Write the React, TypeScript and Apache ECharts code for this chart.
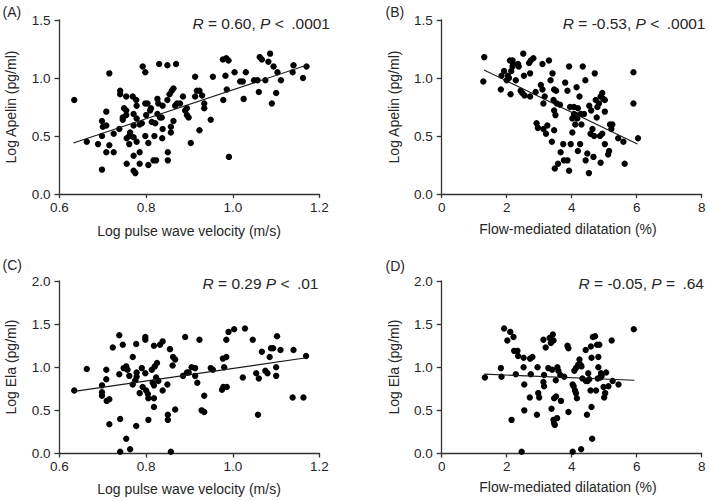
import React, { useEffect, useRef } from "react";
import * as echarts from "echarts";

// Panel A: Log pulse wave velocity vs Log Apelin
const pwvA = [0.634,0.663,0.689,0.698,0.698,0.70,0.708,0.708,0.708,0.698,0.715,0.715,0.725,0.725,0.738,0.74,0.74,0.746,0.746,0.749,0.754,0.754,0.754,0.755,0.755,0.761,0.761,0.763,0.769,0.771,0.771,0.771,0.771,0.771,0.775,0.777,0.778,0.778,0.778,0.785,0.785,0.785,0.79,0.792,0.798,0.798,0.803,0.798,0.805,0.805,0.80,0.809,0.811,0.813,0.817,0.819,0.821,0.823,0.826,0.826,0.828,0.83,0.832,0.836,0.837,0.838,0.838,0.849,0.869,0.849,0.85,0.85,0.854,0.857,0.857,0.859,0.863,0.863,0.867,0.871,0.878,0.885,0.89,0.894,0.894,0.898,0.903,0.913,0.913,0.917,0.923,0.923,0.929,0.934,0.934,0.949,0.954,0.978,0.977,0.985,0.99,0.983,0.986,0.991,1.004,1.017,1.023,1.025,1.03,1.049,1.057,1.06,1.062,1.067,1.075,1.082,1.086,1.09,1.094,1.1,1.103,1.111,1.138,1.14,1.162,1.17];
const apelinA = [0.81,0.45,0.43,0.21,0.63,0.58,0.71,0.59,0.36,0.50,1.04,0.42,0.36,0.52,0.56,0.89,0.86,0.66,0.64,0.74,0.84,0.72,0.68,0.26,0.48,0.43,0.50,0.53,0.84,0.69,0.59,0.49,0.33,0.20,0.18,0.81,0.76,0.65,0.45,0.26,0.36,0.60,0.61,1.10,1.05,0.78,0.78,0.50,0.44,0.25,0.68,0.72,0.74,0.62,0.29,0.50,0.61,0.29,0.82,0.69,0.78,1.12,0.66,0.66,0.48,0.56,0.76,1.11,1.12,0.81,0.36,0.29,0.86,0.58,0.53,0.89,0.91,0.63,0.76,0.78,0.78,0.84,0.72,0.74,0.68,0.66,0.44,1.01,0.84,0.89,0.55,0.89,0.85,0.78,0.74,0.64,1.01,0.81,1.16,1.17,1.15,1.02,0.90,0.32,1.05,0.97,0.97,0.82,1.05,0.98,0.98,0.88,1.18,1.16,0.98,1.14,1.21,0.78,1.10,0.87,1.05,0.98,1.05,1.11,1.00,1.10];
const fitAX = [0.632, 1.17];
const fitAY = [0.44, 1.11];

// Panel B: Flow-mediated dilatation vs Log Apelin
const fmdB = [1.31,1.28,1.82,1.84,1.92,2.0,2.04,2.07,2.1,2.18,2.12,2.14,2.18,2.2,2.28,2.35,2.37,2.43,2.48,2.51,2.53,2.55,2.69,2.74,2.72,2.82,2.72,2.89,2.92,2.96,3.05,3.1,3.1,3.13,3.13,3.17,3.21,3.25,3.3,3.35,3.39,3.41,3.44,3.46,3.46,3.52,3.46,3.48,3.5,3.54,3.58,3.64,3.66,3.74,3.76,3.87,3.8,3.87,3.92,3.92,3.95,3.97,4.02,4.02,4.07,4.07,4.13,4.11,4.15,4.17,4.19,4.19,4.24,4.26,4.28,4.3,4.34,4.38,4.42,4.43,4.48,4.53,4.54,4.58,4.6,4.64,4.67,4.69,4.71,4.74,4.77,4.79,4.84,4.89,4.87,4.89,4.94,4.97,4.94,5.02,5.02,5.02,5.12,5.15,5.18,5.22,5.25,5.43,5.59,5.63,5.9,5.9,6.04];
const apelinB = [1.18,0.97,0.90,1.02,1.06,0.98,1.02,1.00,1.15,1.15,0.86,1.06,1.10,1.12,0.98,1.12,1.10,0.89,0.87,1.21,1.02,0.85,1.13,1.15,1.04,1.17,0.84,0.88,0.61,0.57,0.94,1.12,0.90,0.78,0.56,0.84,0.52,0.59,1.15,0.98,0.45,1.04,0.81,0.55,0.90,0.89,0.72,0.22,0.68,0.78,0.26,0.77,0.36,0.43,0.29,0.29,0.96,0.89,1.10,0.20,0.75,0.43,0.53,0.65,0.75,0.69,0.68,0.60,0.92,0.65,0.74,0.37,0.84,0.43,0.69,0.60,1.10,0.69,0.98,0.29,0.35,0.18,0.76,0.52,0.72,0.56,0.32,0.50,1.04,0.81,0.66,0.75,0.78,0.84,0.50,0.27,0.87,0.82,0.52,0.81,0.43,0.71,0.34,0.37,0.60,0.56,0.60,0.48,0.45,0.26,1.05,0.78,0.48];
const fitBX = [1.3, 6.02];
const fitBY = [1.07, 0.43];

// Panel C: Log pulse wave velocity vs Log Ela
const pwvC = [0.634,0.663,0.698,0.698,0.698,0.708,0.708,0.709,0.715,0.715,0.723,0.738,0.738,0.74,0.74,0.746,0.748,0.754,0.754,0.757,0.761,0.763,0.769,0.769,0.775,0.777,0.777,0.778,0.778,0.785,0.79,0.792,0.798,0.798,0.798,0.80,0.804,0.805,0.805,0.813,0.815,0.818,0.818,0.818,0.818,0.82,0.823,0.825,0.828,0.832,0.838,0.838,0.849,0.85,0.85,0.855,0.857,0.861,0.862,0.867,0.867,0.885,0.89,0.894,0.898,0.905,0.913,0.913,0.918,0.923,0.928,0.934,0.934,0.949,0.954,0.975,0.977,0.978,0.98,0.985,0.985,0.986,0.99,1.003,1.023,1.028,1.046,1.054,1.06,1.058,1.067,1.075,1.08,1.085,1.088,1.093,1.1,1.1,1.102,1.11,1.14,1.138,1.163,1.169];
const elaC = [0.73,0.98,0.79,0.71,0.67,0.97,0.86,0.61,0.63,0.34,1.23,0.92,1.37,0.40,0.02,1.26,0.99,1.01,0.17,0.97,0.90,0.05,1.12,0.80,0.85,1.27,0.32,0.94,0.89,0.70,0.99,0.77,1.35,1.32,0.93,0.73,0.69,0.64,0.39,0.97,0.82,0.79,1.25,0.64,0.54,1.01,0.88,1.05,0.84,1.26,1.30,0.73,0.80,0.45,0.39,1.21,0.02,1.02,1.12,1.09,0.51,0.90,1.35,0.94,0.94,1.00,0.99,0.90,0.82,1.32,0.50,0.48,0.67,0.99,0.97,0.74,1.10,0.77,1.00,1.12,1.32,0.77,1.41,1.44,0.88,1.45,1.32,0.93,0.87,0.45,1.18,0.96,0.93,1.12,1.22,1.22,1.00,0.90,1.36,1.20,1.20,0.65,0.65,1.13];
const fitCX = [0.634, 1.17];
const fitCY = [0.72, 1.11];

// Panel D: Flow-mediated dilatation vs Log Ela
const fmdD = [1.33,1.82,1.84,1.92,2.02,2.11,2.15,2.21,2.23,2.28,2.33,2.35,2.46,2.52,2.52,2.54,2.54,2.71,2.72,2.79,2.74,2.93,2.95,2.97,3.0,3.13,3.13,3.15,3.15,3.2,3.28,3.32,3.36,3.44,3.38,3.4,3.42,3.44,3.46,3.48,3.46,3.51,3.56,3.52,3.55,3.59,3.65,3.67,3.77,3.87,3.9,3.9,4.03,4.06,4.03,4.08,4.13,4.1,4.13,4.16,4.2,4.27,4.3,4.24,4.29,4.33,4.43,4.44,4.49,4.47,4.51,4.54,4.58,4.59,4.61,4.61,4.63,4.65,4.72,4.75,4.78,4.85,4.8,4.82,4.82,4.88,4.92,4.9,4.98,5.0,5.03,5.06,5.13,5.23,5.26,5.44,5.91];
const elaD = [0.88,0.99,0.89,1.45,1.31,1.41,0.39,1.35,1.19,0.92,1.19,1.13,0.02,1.11,1.00,0.80,0.50,0.65,1.10,1.12,0.92,0.45,1.00,0.70,0.65,1.32,0.83,0.78,0.91,1.23,0.99,1.34,1.28,1.31,0.52,0.97,1.38,0.39,0.35,0.33,0.64,0.85,1.00,0.66,0.41,0.96,0.91,0.61,0.89,1.25,1.22,0.48,0.80,0.78,0.02,0.96,0.99,0.73,0.70,0.64,1.03,1.03,1.01,1.09,0.05,0.87,1.20,0.84,0.84,0.45,0.93,0.86,0.73,1.24,1.11,0.54,0.17,1.35,1.36,0.73,1.26,1.26,0.87,1.12,1.00,0.88,0.90,0.93,0.77,0.65,0.70,0.94,0.78,1.31,0.84,0.80,1.44];
const fitDX = [1.31, 5.93];
const fitDY = [0.92, 0.85];

const panelLabels = ["(A)", "(B)", "(C)", "(D)"];
const xNames = ["Log pulse wave velocity (m/s)", "Flow-mediated dilatation (%)", "Log pulse wave velocity (m/s)", "Flow-mediated dilatation (%)"];
const yNames = ["Log Apelin (pg/ml)", "Log Apelin (pg/ml)", "Log Ela (pg/ml)", "Log Ela (pg/ml)"];
const statTexts = [
  "{i|R} = 0.60, {i|P} < \u2009.0001",
  "{i|R} = -0.53, {i|P} < \u2009.0001",
  "{i|R} = 0.29 {i|P} < \u2009.01",
  "{i|R} = -0.05, {i|P} = \u2009.64",
];

const FONT = "'Liberation Sans', Arial, Helvetica, sans-serif";
const AXIS_COLOR = "#333333";
const TEXT_COLOR = "#262626";

const zip = (xs: number[], ys: number[]) => xs.map((x, i) => [x, ys[i]]);

export default function App() {
  const ref = useRef<HTMLDivElement>(null);
  useEffect(() => {
    document.body.style.margin = "0";
    if (!ref.current) return;
    const chart = echarts.init(ref.current, null, { renderer: "svg" });

    const grids = [
      { left: 59.5, top: 20, width: 260, height: 174 },
      { left: 441.7, top: 20, width: 260, height: 174 },
      { left: 59.5, top: 281, width: 260, height: 172.5 },
      { left: 441.7, top: 281, width: 260, height: 172.5 },
    ];
    const xRanges = [
      { min: 0.6, max: 1.2, interval: 0.2, dec: 1 },
      { min: 0, max: 8, interval: 2, dec: 0 },
      { min: 0.6, max: 1.2, interval: 0.2, dec: 1 },
      { min: 0, max: 8, interval: 2, dec: 0 },
    ];
    const yRanges = [
      { min: 0, max: 1.5, interval: 0.5 },
      { min: 0, max: 1.5, interval: 0.5 },
      { min: 0, max: 2, interval: 0.5 },
      { min: 0, max: 2, interval: 0.5 },
    ];
    const scatterData = [zip(pwvA, apelinA), zip(fmdB, apelinB), zip(pwvC, elaC), zip(fmdD, elaD)];
    const fitData = [zip(fitAX, fitAY), zip(fitBX, fitBY), zip(fitCX, fitCY), zip(fitDX, fitDY)];

    const axisLine = { show: true, onZero: false, lineStyle: { color: AXIS_COLOR, width: 1.3 } };
    const axisTick = { show: true, length: 4, lineStyle: { color: AXIS_COLOR, width: 1.3 } };

    const xAxis = xRanges.map((r, i) => ({
      type: "value",
      gridIndex: i,
      min: r.min,
      max: r.max,
      interval: r.interval,
      axisLine,
      axisTick,
      splitLine: { show: false },
      axisLabel: {
        color: TEXT_COLOR,
        fontSize: 13.5,
        fontFamily: FONT,
        margin: 6,
        formatter: (v: number) => v.toFixed(r.dec),
      },
    }));
    const yAxis = yRanges.map((r, i) => ({
      type: "value",
      gridIndex: i,
      min: r.min,
      max: r.max,
      interval: r.interval,
      axisLine,
      axisTick: { ...axisTick, length: 5 },
      splitLine: { show: false },
      axisLabel: {
        color: TEXT_COLOR,
        fontSize: 13.5,
        fontFamily: FONT,
        margin: 9,
        formatter: (v: number) => v.toFixed(1),
      },
    }));

    const series: any[] = [];
    for (let i = 0; i < 4; i++) {
      series.push({
        type: "scatter",
        xAxisIndex: i,
        yAxisIndex: i,
        data: scatterData[i],
        symbol: "circle",
        symbolSize: 6.4,
        itemStyle: { color: "#000000", opacity: 1 },
      });
      series.push({
        type: "line",
        xAxisIndex: i,
        yAxisIndex: i,
        data: fitData[i],
        showSymbol: false,
        symbol: "none",
        lineStyle: { color: "#1a1a1a", width: 1.1 },
      });
    }

    const italicRich = {
      i: { fontStyle: "italic", fontSize: 15.5, fontFamily: FONT, fill: TEXT_COLOR },
    };
    const statPos = [
      [330, 23.5],
      [705.5, 23.5],
      [318.5, 283.5],
      [704, 283.5],
    ];
    const labelPos = [
      [2.5, 12],
      [385.5, 12],
      [2.5, 265],
      [385.5, 265.5],
    ];
    const xNamePos = [
      [189, 231],
      [568, 229],
      [189, 489],
      [568, 487],
    ];
    const yNamePos = [
      [11, 107],
      [393.5, 107],
      [11, 367],
      [393.5, 367],
    ];

    const graphic: any[] = [];
    for (let i = 0; i < 4; i++) {
      graphic.push({
        type: "text",
        x: statPos[i][0],
        y: statPos[i][1],
        style: {
          text: statTexts[i],
          fontSize: 15.5,
          fontFamily: FONT,
          fill: TEXT_COLOR,
          align: "right",
          verticalAlign: "middle",
          rich: italicRich,
        },
      });
      graphic.push({
        type: "text",
        x: labelPos[i][0],
        y: labelPos[i][1],
        style: {
          text: panelLabels[i],
          fontSize: 14,
          fontFamily: FONT,
          fill: TEXT_COLOR,
          align: "left",
          verticalAlign: "middle",
        },
      });
      graphic.push({
        type: "text",
        x: xNamePos[i][0],
        y: xNamePos[i][1],
        style: {
          text: xNames[i],
          fontSize: 14,
          fontFamily: FONT,
          fill: TEXT_COLOR,
          align: "center",
          verticalAlign: "middle",
        },
      });
      graphic.push({
        type: "text",
        x: yNamePos[i][0],
        y: yNamePos[i][1],
        rotation: Math.PI / 2,
        style: {
          text: yNames[i],
          fontSize: 14,
          fontFamily: FONT,
          fill: TEXT_COLOR,
          align: "center",
          verticalAlign: "middle",
        },
      });
    }

    chart.setOption({
      animation: false,
      backgroundColor: "#ffffff",
      grid: grids.map((g) => ({ ...g, containLabel: false, outerBoundsMode: "none" })),
      xAxis,
      yAxis,
      series,
      graphic,
    });
    return () => chart.dispose();
  }, []);

  return (
    <div
      ref={ref}
      style={{ position: "fixed", left: 0, top: 0, width: 709, height: 501, background: "#fff" }}
    />
  );
}
